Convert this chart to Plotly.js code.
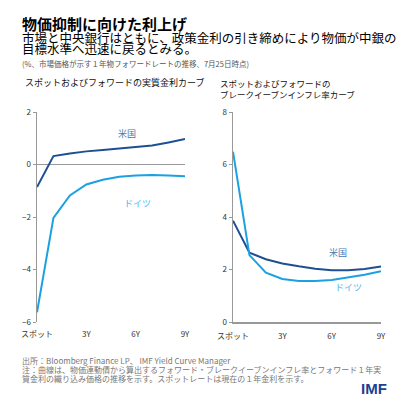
<!DOCTYPE html>
<html>
<head>
<meta charset="utf-8">
<script src="https://cdn.plot.ly/plotly-3.0.1.min.js"></script>
<style>
  html, body { margin: 0; padding: 0; background: #fff; }
  #plot { width: 408px; height: 408px; }
</style>
</head>
<body>
<div id="plot"></div>
<script>
// years ahead: 0 = spot
var years = [0, 1, 2, 3, 4, 5, 6, 7, 8, 9];
var tickVals = [0, 3, 6, 9];
var tickText = ['スポット', '3Y', '6Y', '9Y'];

// real rate curve (%)
var realUS = [-0.86, 0.32, 0.42, 0.5, 0.55, 0.6, 0.65, 0.72, 0.84, 0.97];
var realDE = [-5.63, -2.03, -1.18, -0.76, -0.58, -0.47, -0.42, -0.4, -0.42, -0.45];

// breakeven inflation curve (%)
var beUS = [3.86, 2.64, 2.39, 2.23, 2.12, 2.03, 1.97, 1.97, 2.02, 2.11];
var beDE = [6.49, 2.55, 1.88, 1.64, 1.56, 1.56, 1.6, 1.69, 1.8, 1.93];

var usColor = '#1d4f93';
var deColor = '#1ba1e2';
var font = '"Noto Sans CJK JP", "Noto Sans", sans-serif';

function px(x) { return x / 408; }
function py(y) { return 1 - y / 408; }

var data = [
  { x: years, y: realUS, xaxis: 'x', yaxis: 'y', mode: 'lines', line: { color: usColor, width: 2 }, hoverinfo: 'skip' },
  { x: years, y: realDE, xaxis: 'x', yaxis: 'y', mode: 'lines', line: { color: deColor, width: 2 }, hoverinfo: 'skip' },
  { x: years, y: beUS, xaxis: 'x2', yaxis: 'y2', mode: 'lines', line: { color: usColor, width: 2 }, hoverinfo: 'skip' },
  { x: years, y: beDE, xaxis: 'x2', yaxis: 'y2', mode: 'lines', line: { color: deColor, width: 2 }, hoverinfo: 'skip' }
];

var xBase = {
  range: [0, 9], tickvals: tickVals, ticktext: tickText,
  showgrid: false, zeroline: false, ticks: '', ticklabelstandoff: 6,
  tickfont: { family: font, size: 8, color: '#333' }
};
var yBase = {
  showgrid: false, showline: true, linecolor: '#999', linewidth: 1.5,
  ticks: 'outside', ticklen: 3, tickcolor: '#999',
  tickfont: { family: font, size: 8, color: '#333' }
};

var layout = {
  width: 408, height: 408,
  margin: { l: 0, r: 0, t: 0, b: 0 },
  paper_bgcolor: '#fff', plot_bgcolor: '#fff',
  showlegend: false,
  font: { family: font },
  xaxis: Object.assign({}, xBase, { domain: [px(37), px(185)], anchor: 'y', showline: false }),
  yaxis: Object.assign({}, yBase, { domain: [py(322), py(112)], anchor: 'x', range: [-6, 2], dtick: 2,
    zeroline: true, zerolinecolor: '#999', zerolinewidth: 1.2 }),
  xaxis2: Object.assign({}, xBase, { domain: [px(233), px(381)], anchor: 'y2', showline: true, linecolor: '#999', linewidth: 1.5 }),
  yaxis2: Object.assign({}, yBase, { domain: [py(322), py(112)], anchor: 'x2', range: [0, 8], dtick: 2, zeroline: false }),
  annotations: [
    { xref: 'paper', yref: 'paper', x: px(20), y: py(23), xanchor: 'left', yanchor: 'middle', showarrow: false,
      text: '<b>物価抑制に向けた利上げ</b>', font: { family: font, size: 15, color: '#000' } },
    { xref: 'paper', yref: 'paper', x: px(20), y: py(37), xanchor: 'left', yanchor: 'middle', showarrow: false,
      text: '市場と中央銀行はともに、政策金利の引き締めにより物価が中銀の', font: { family: font, size: 12.5, color: '#000' } },
    { xref: 'paper', yref: 'paper', x: px(20), y: py(48), xanchor: 'left', yanchor: 'middle', showarrow: false,
      text: '目標水準へ迅速に戻るとみる。', font: { family: font, size: 12.5, color: '#000' } },
    { xref: 'paper', yref: 'paper', x: px(20), y: py(63), xanchor: 'left', yanchor: 'middle', showarrow: false,
      text: '(%、市場価格が示す１年物フォワードレートの推移、7月25日時点)', font: { family: font, size: 7.5, color: '#555' } },
    { xref: 'paper', yref: 'paper', x: px(23), y: py(83), xanchor: 'left', yanchor: 'middle', showarrow: false,
      text: 'スポットおよびフォワードの実質金利カーブ', font: { family: font, size: 9, color: '#111' } },
    { xref: 'paper', yref: 'paper', x: px(218), y: py(83), xanchor: 'left', yanchor: 'middle', showarrow: false,
      text: 'スポットおよびフォワードの', font: { family: font, size: 8.5, color: '#111' } },
    { xref: 'paper', yref: 'paper', x: px(218), y: py(94), xanchor: 'left', yanchor: 'middle', showarrow: false,
      text: 'ブレークイーブンインフレ率カーブ', font: { family: font, size: 8.5, color: '#111' } },
    // series labels
    { xref: 'x', yref: 'y', x: 5.5, y: 1.2, showarrow: false, text: '米国', font: { family: font, size: 9, color: '#4a76b4' } },
    { xref: 'x', yref: 'y', x: 6.1, y: -1.5, showarrow: false, text: 'ドイツ', font: { family: font, size: 9, color: '#4cb7ee' } },
    { xref: 'x2', yref: 'y2', x: 6.4, y: 2.63, showarrow: false, text: '米国', font: { family: font, size: 9, color: '#4a76b4' } },
    { xref: 'x2', yref: 'y2', x: 7.05, y: 1.3, showarrow: false, text: 'ドイツ', font: { family: font, size: 9, color: '#4cb7ee' } },
    // footer
    { xref: 'paper', yref: 'paper', x: px(20), y: py(360), xanchor: 'left', yanchor: 'middle', showarrow: false,
      text: '出所：Bloomberg Finance LP、 IMF Yield Curve Manager', font: { family: font, size: 8, color: '#777' } },
    { xref: 'paper', yref: 'paper', x: px(20), y: py(369), xanchor: 'left', yanchor: 'middle', showarrow: false,
      text: '注：曲線は、物価連動債から算出するフォワード・ブレークイーブンインフレ率とフォワード１年実', font: { family: font, size: 8, color: '#777' } },
    { xref: 'paper', yref: 'paper', x: px(20), y: py(378), xanchor: 'left', yanchor: 'middle', showarrow: false,
      text: '質金利の織り込み価格の推移を示す。スポットレートは現在の１年金利を示す。', font: { family: font, size: 8, color: '#777' } },
    { xref: 'paper', yref: 'paper', x: px(389), y: py(388), xanchor: 'right', yanchor: 'middle', showarrow: false,
      text: '<b>IMF</b>', font: { family: '"Liberation Sans", Arial, sans-serif', size: 15, color: '#1c3f94' } }
  ]
};

Plotly.newPlot('plot', data, layout, { staticPlot: true });
</script>
</body>
</html>
